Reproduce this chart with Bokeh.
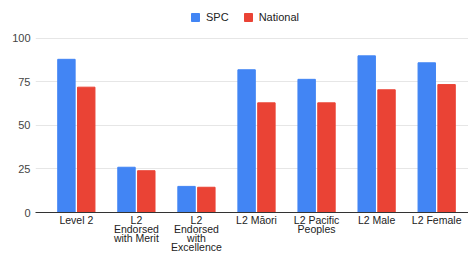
from bokeh.plotting import figure
from bokeh.models import Range1d, FixedTicker, Legend, LegendItem
from bokeh.embed import file_html
from bokeh.resources import INLINE

categories = ["Level 2", "L2\nEndorsed\nwith Merit", "L2\nEndorsed\nwith\nExcellence",
              "L2 Māori", "L2 Pacific\nPeoples", "L2 Male", "L2 Female"]
spc = [88, 26, 15, 82, 76.5, 90, 86]
national = [72, 24, 14.5, 63, 63, 70.5, 73.5]
y_ticks = [0, 25, 50, 75, 100]

BLUE = "#4285F4"
RED = "#EA4335"
FONT = "Liberation Sans"

xs = list(range(len(categories)))

p = figure(width=468, height=255, output_backend="svg", toolbar_location=None,
           x_range=Range1d(-0.68, 6.53), y_range=Range1d(0, 117.2),
           min_border_left=35, min_border_right=0, min_border_top=8, min_border_bottom=43)
p.outline_line_color = None

off = 0.165
w = 0.29
r1 = p.vbar(x=[x - off for x in xs], top=spc, width=w, color=BLUE)
r2 = p.vbar(x=[x + off for x in xs], top=national, width=w, color=RED)

p.xaxis.ticker = FixedTicker(ticks=xs)
p.xaxis.major_label_overrides = {i: c for i, c in enumerate(categories)}
p.xaxis.major_tick_line_color = None
p.xaxis.minor_tick_line_color = None
p.xaxis.major_tick_out = 0
p.xaxis.major_tick_in = 0
p.xaxis.axis_line_color = "#333333"
p.xaxis.major_label_standoff = 1
p.xaxis.major_label_text_font = FONT
p.xaxis.major_label_text_font_size = "10.5px"
p.xaxis.major_label_text_color = "#222222"
p.xaxis.major_label_text_line_height = 0.75

p.yaxis.ticker = FixedTicker(ticks=y_ticks)
p.yaxis.axis_line_color = None
p.yaxis.major_tick_line_color = None
p.yaxis.minor_tick_line_color = None
p.yaxis.major_tick_out = 0
p.yaxis.major_tick_in = 0
p.yaxis.major_label_standoff = 5
p.yaxis.major_label_text_font = FONT
p.yaxis.major_label_text_font_size = "11px"
p.yaxis.major_label_text_color = "#444444"

p.xgrid.grid_line_color = None
p.ygrid.grid_line_color = "#e6e6e6"
p.ygrid.ticker = FixedTicker(ticks=y_ticks)

legend = Legend(items=[LegendItem(label="SPC", renderers=[r1]),
                       LegendItem(label="National", renderers=[r2])],
                orientation="horizontal", location=(155, 189),
                glyph_width=10, glyph_height=10, label_standoff=6, spacing=14,
                padding=0, margin=0, border_line_color=None, background_fill_alpha=0,
                label_text_font=FONT, label_text_font_size="11px", label_text_color="#222222",
                label_height=12)
p.add_layout(legend, "center")

open("out.html", "w").write(file_html(p, INLINE))
